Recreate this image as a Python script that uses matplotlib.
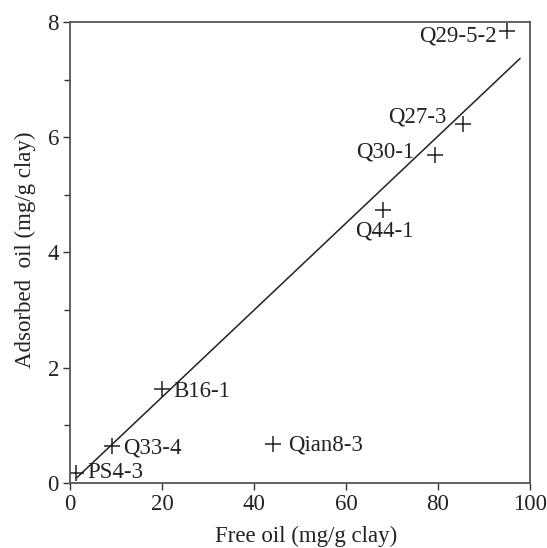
import numpy as np
import matplotlib
matplotlib.use('Agg')
import matplotlib.pyplot as plt
from matplotlib.ticker import MultipleLocator

plt.rcParams['font.family'] = ['Liberation Serif', 'DejaVu Serif']

# sample data
names = ['PS4-3', 'Q33-4', 'B16-1', 'Qian8-3', 'Q44-1', 'Q30-1', 'Q27-3', 'Q29-5-2']
free_oil = [1.3, 9.1, 20.1, 44.1, 68.1, 79.3, 85.5, 94.9]
adsorbed = [0.18, 0.65, 1.63, 0.68, 4.74, 5.69, 6.23, 7.85]
# label offsets in points, alignment
offsets = [(8, 0), (8, -1.5), (8, -2), (11, -1), (1, -15), (-15, 2), (-12, 5), (-7, -4)]
aligns = ['left', 'left', 'left', 'left', 'center', 'right', 'right', 'right']

# fitted line
slope, intercept = 0.0755, -0.02
fit_x = [1.5, 97.8]

fs = 16.5

fig = plt.figure(figsize=(5.47, 5.48), dpi=100)
ax = fig.add_axes([0.128, 0.1186, 0.841, 0.8413])

ax.plot(free_oil, adsorbed, '+', color='#222222', ms=12, mew=1.1)
fx = np.array(fit_x)
ax.plot(fx, slope * fx + intercept, '-', color='#222222', lw=1.1)

for n, x, y, off, ha in zip(names, free_oil, adsorbed, offsets, aligns):
    ax.annotate(n, (x, y), xytext=off, textcoords='offset points',
                ha=ha, va='center', fontsize=fs, color='#222222')

ax.set_xlim(0, 100)
ax.set_ylim(0, 8)
ax.xaxis.set_major_locator(MultipleLocator(20))
ax.yaxis.set_major_locator(MultipleLocator(2))
ax.yaxis.set_minor_locator(MultipleLocator(1))
ax.tick_params(which='major', length=5, width=1, labelsize=fs, colors='#333333',
               labelcolor='#222222', pad=3)
ax.tick_params(which='minor', length=4, width=1, colors='#333333')
for s in ax.spines.values():
    s.set_color('#555555')
    s.set_linewidth(1.3)

ax.set_xlabel('Free oil (mg/g clay)', fontsize=fs, color='#222222')
ax.set_ylabel('Adsorbed  oil (mg/g clay)', fontsize=fs, color='#222222')
ax.xaxis.set_label_coords(0.514, -0.093)
ax.yaxis.set_label_coords(-0.075, 0.505)

fig.savefig('out.png', dpi=100)
